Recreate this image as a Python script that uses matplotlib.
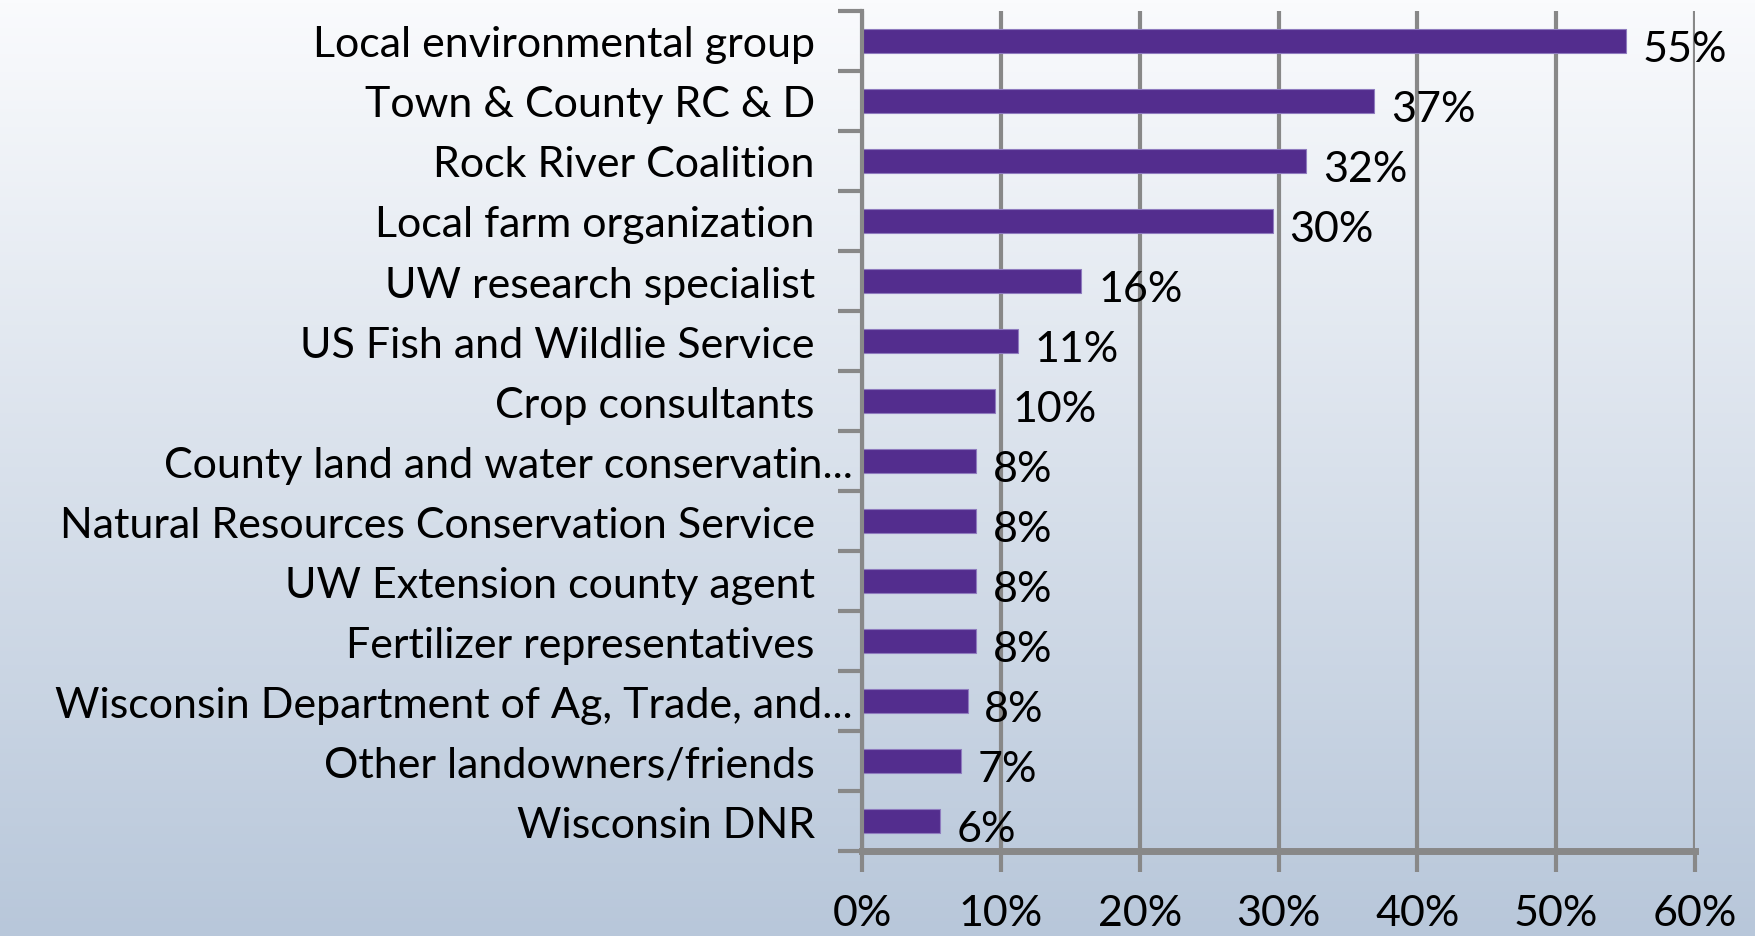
import numpy as np
import matplotlib.pyplot as plt
import matplotlib.transforms as mtransforms
from matplotlib.ticker import FixedLocator

categories = [
    "Local environmental group",
    "Town & County RC & D",
    "Rock River Coalition",
    "Local farm organization",
    "UW research specialist",
    "US Fish and Wildlie Service",
    "Crop consultants",
    "County land and water conservatin...",
    "Natural Resources Conservation Service",
    "UW Extension county agent",
    "Fertilizer representatives",
    "Wisconsin Department of Ag, Trade, and...",
    "Other landowners/friends",
    "Wisconsin DNR",
]
values = [55.0, 36.9, 32.0, 29.6, 15.8, 11.2, 9.6, 8.2, 8.2, 8.2, 8.2, 7.6, 7.1, 5.6]
xticks = [0, 10, 20, 30, 40, 50, 60]

plt.rcParams['font.family'] = ['Lato', 'DejaVu Sans']
grey = '#888888'
bar_color = '#532D8E'
fs = 31

fig = plt.figure(figsize=(17.56, 9.37), dpi=100)

# gradient background
bg = fig.add_axes([0, 0, 1, 1], zorder=-10)
top = np.array([250, 251, 253]) / 255
bot = np.array([184, 199, 218]) / 255
t = np.linspace(0, 1, 256)[:, None]
grad = (top[None, :] * (1 - t) + bot[None, :] * t)[:, None, :]
bg.imshow(grad, aspect='auto', extent=[0, 1, 0, 1])
bg.axis('off')

ax = fig.add_axes([0.4909, 0.0907, 0.4744, 0.8965])
ax.patch.set_alpha(0)

y = np.arange(len(categories))
ax.barh(y, values, height=0.4, color=bar_color, edgecolor='#8F7BBF',
        linewidth=0.8, zorder=3)
for yi, v in zip(y, values):
    ax.text(v + 1.2, yi + 0.13, f"{round(v)}%", va='center', ha='left',
            fontsize=fs, color='black', zorder=4)

ax.set_ylim(len(categories) - 0.5, -0.5)
ax.set_xlim(0, 60)
ax.set_xticks(xticks)
ax.set_xticklabels([f"{x}%" for x in xticks], fontsize=fs)
ax.set_yticks(y)
ax.set_yticklabels(categories, fontsize=fs)
ax.yaxis.set_minor_locator(FixedLocator(np.arange(-0.5, len(categories), 1)))

ax.tick_params(axis='y', which='major', length=0, pad=34)
ax.tick_params(axis='y', which='minor', length=17, width=3, color=grey)
ax.tick_params(axis='x', which='major', length=15, width=3, color=grey, pad=16)

# truncated labels sit closer to the axis, like in the original
shift = mtransforms.ScaledTranslation(38 / 100, 0, fig.dpi_scale_trans)
for lab in ax.get_yticklabels():
    if lab.get_text().endswith('...'):
        lab.set_transform(lab.get_transform() + shift)

ax.grid(axis='x', color=grey, linewidth=3, zorder=1)
ax.set_axisbelow(True)
for s in ['top', 'right']:
    ax.spines[s].set_visible(False)
ax.spines['left'].set_color(grey)
ax.spines['left'].set_linewidth(3)
ax.spines['bottom'].set_color(grey)
ax.spines['bottom'].set_linewidth(5)
ax.spines['left'].set_zorder(5)

plt.savefig("out.png", dpi=100)
